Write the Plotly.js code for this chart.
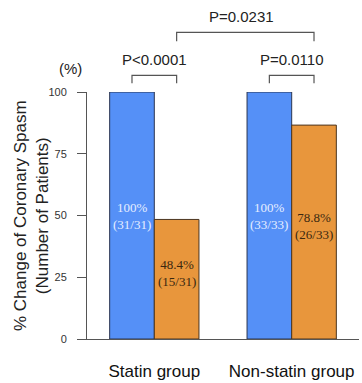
<!DOCTYPE html>
<html>
<head>
<meta charset="utf-8">
<script src="https://cdn.plot.ly/plotly-3.0.1.min.js"></script>
<style>html,body{margin:0;padding:0;background:#fff;}#chart{width:362px;height:383px;}</style>
</head>
<body>
<div id="chart"></div>
<script>
// Data
var groups = ['Statin group', 'Non-statin group'];
var groupPos = [0, 1];
var beforeValues = [100, 100];          // blue bars
var afterValues = [48.4, 86.6];         // orange bars (bar heights as drawn)
var beforeLabels = ['100%<br>(31/31)', '100%<br>(33/33)'];
var afterLabels = ['48.4%<br>(15/31)', '78.8%<br>(26/33)'];
var pTexts = ['P<0.0001', 'P=0.0110', 'P=0.0231'];
var yTicks = [0, 25, 50, 75, 100];
var yTitle = '% Change of Coronary Spasm<br>(Number of Patients)';

var barHalf = 0.1625;
var lineCol = '#555555';
var serif = 'Liberation Serif, Times New Roman, serif';
var sans = 'Liberation Sans, Arial, sans-serif';

var traces = [
  {
    type: 'bar', x: groupPos, y: beforeValues, name: 'Before',
    marker: {color: '#5590f7', line: {color: '#2b3550', width: 1}},
    hoverinfo: 'none'
  },
  {
    type: 'bar', x: groupPos, y: afterValues, name: 'After',
    marker: {color: '#e8963c', line: {color: '#4a3520', width: 1}},
    hoverinfo: 'none'
  }
];

var annotations = [];
var shapes = [];
// bar value labels
groupPos.forEach(function (p, i) {
  annotations.push({xref: 'x', yref: 'y', x: p - barHalf, y: beforeValues[i] / 2,
    text: beforeLabels[i], showarrow: false, xanchor: 'center', yanchor: 'middle',
    font: {family: serif, size: 13, color: '#e6eeff'}});
  annotations.push({xref: 'x', yref: 'y', x: p + barHalf, y: afterValues[i] / 2, yshift: 6,
    text: afterLabels[i], showarrow: false, xanchor: 'center', yanchor: 'middle',
    font: {family: serif, size: 13, color: '#3a2810'}});
});

// significance brackets (built from bar positions)
function bracket(x0, x1, yLow, yHigh) {
  shapes.push({type: 'path', xref: 'x', yref: 'paper',
    path: 'M' + x0 + ',' + yLow + ' L' + x0 + ',' + yHigh + ' L' + x1 + ',' + yHigh + ' L' + x1 + ',' + yLow,
    line: {color: lineCol, width: 1.2}});
}
bracket(groupPos[0] - barHalf, groupPos[0] + barHalf, 1.035, 1.067);
bracket(groupPos[1] - barHalf, groupPos[1] + barHalf, 1.035, 1.067);
bracket(groupPos[0] + barHalf, groupPos[1] + barHalf, 1.205, 1.241);

var pFont = {family: sans, size: 15, color: '#222'};
annotations.push(
  {xref: 'x', yref: 'paper', x: groupPos[0], y: 1.132, xanchor: 'center', yanchor: 'middle', text: pTexts[0], showarrow: false, font: pFont},
  {xref: 'x', yref: 'paper', x: groupPos[1], y: 1.132, xanchor: 'center', yanchor: 'middle', text: pTexts[1], showarrow: false, font: pFont},
  {xref: 'x', yref: 'paper', x: (groupPos[0] + groupPos[1]) / 2 + barHalf - 0.025, y: 1.306, xanchor: 'center', yanchor: 'middle', text: pTexts[2], showarrow: false, font: pFont},
  {xref: 'paper', yref: 'paper', x: -0.0625, y: 1.095, xanchor: 'center', yanchor: 'middle', text: '(%)', showarrow: false, font: pFont},
  // y-axis title
  {xref: 'paper', yref: 'paper', x: -0.204, y: 0.5, xanchor: 'center', yanchor: 'middle', textangle: -90,
    text: yTitle, showarrow: false, font: {family: sans, size: 17, color: '#222'}}
);

var layout = {
  width: 362, height: 383,
  margin: {l: 87, r: 3, t: 92, b: 44},
  paper_bgcolor: '#fff', plot_bgcolor: '#fff',
  showlegend: false,
  barmode: 'group', bargap: 0.35, bargroupgap: 0,
  font: {family: sans, color: '#222'},
  xaxis: {
    range: [-0.49, 1.49], tickvals: groupPos, ticktext: groups,
    showgrid: false, zeroline: false, showline: true, linecolor: lineCol, linewidth: 1,
    ticks: '', ticklabelstandoff: 17,
    tickfont: {size: 17, color: '#111'}
  },
  yaxis: {
    range: [0, 100], tickvals: yTicks, ticktext: yTicks.map(String),
    showgrid: false, zeroline: false, showline: true, linecolor: lineCol, linewidth: 1,
    ticks: 'outside', ticklen: 9, tickcolor: lineCol, ticklabelstandoff: 8,
    tickfont: {size: 11, color: '#333'}
  },
  shapes: shapes,
  annotations: annotations
};

Plotly.newPlot('chart', traces, layout, {displayModeBar: false, staticPlot: true});
</script>
</body>
</html>
